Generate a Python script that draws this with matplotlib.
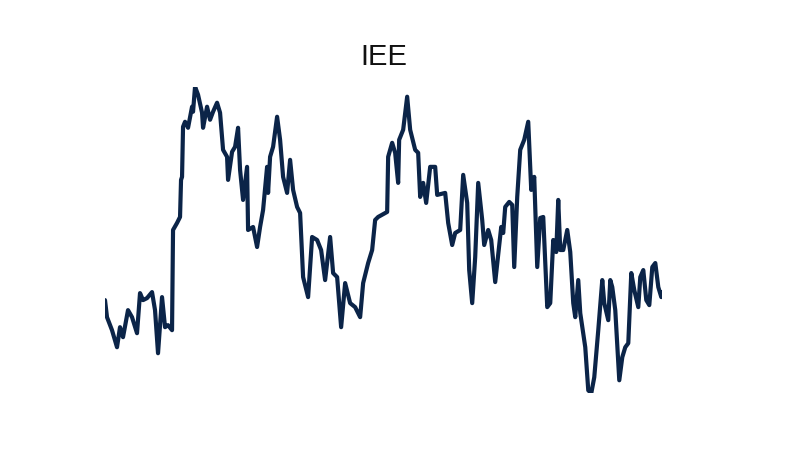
import matplotlib
matplotlib.use("Agg")
import matplotlib.pyplot as plt

# ------------------------------------------------------------------
# Data (read off the reference sparkline)
# ------------------------------------------------------------------

TICKER = "IEE"

days = [
    0, 2, 7, 12, 15, 18, 23, 27, 32, 35,
    38, 42, 47, 50, 53, 57, 60, 63, 67, 68,
    72, 75, 76, 77, 78, 80, 83, 87, 88, 90,
    93, 97, 98, 102, 105, 108, 112, 115, 118, 122,
    123, 127, 130, 133, 135, 138, 142, 143, 148, 152,
    155, 158, 162, 163, 165, 168, 172, 175, 178, 182,
    185, 188, 192, 195, 198, 203, 207, 212, 216, 220,
    225, 228, 232, 236, 240, 245, 250, 255, 258, 263,
    267, 270, 273, 282, 283, 287, 290, 293, 294, 298,
    302, 305, 310, 313, 315, 318, 321, 325, 330, 332,
    340, 343, 347, 350, 355, 358, 362, 364, 367, 370,
    373, 377, 379, 383, 386, 390, 396, 398, 400, 404,
    407, 409, 412, 415, 419, 423, 426, 429, 432, 435,
    438, 442, 445, 448, 451, 453, 455, 458, 462, 465,
    468, 470, 473, 475, 480, 483, 486, 489, 493, 497,
    499, 503, 505, 507, 510, 514, 517, 520, 523, 526,
    529, 533, 535, 538, 541, 544, 547, 550, 553, 556,
    557,
]

price = [
    80.0, 78.3, 77.0, 75.3, 77.3, 76.3, 79.0, 78.3, 76.7, 80.7,
    80.0, 80.2, 80.8, 79.0, 74.7, 80.3, 77.3, 77.5, 77.0, 87.0,
    87.7, 88.3, 92.0, 92.3, 97.3, 97.8, 97.2, 99.3, 98.8, 101.3,
    100.5, 98.7, 97.2, 99.3, 98.0, 98.8, 99.7, 98.7, 95.0, 94.3,
    92.0, 94.8, 95.3, 97.2, 93.0, 90.0, 93.3, 87.0, 87.3, 85.3,
    87.3, 89.0, 93.3, 90.7, 94.3, 95.3, 98.3, 96.0, 92.3, 90.7,
    94.0, 91.0, 89.3, 88.7, 82.3, 80.3, 86.3, 86.0, 85.0, 82.0,
    86.3, 82.7, 82.3, 77.3, 81.7, 79.7, 79.3, 78.3, 81.7, 83.7,
    85.0, 88.0, 88.3, 88.8, 94.3, 95.7, 94.7, 91.7, 96.0, 97.0,
    100.3, 97.0, 95.0, 94.7, 90.3, 91.7, 89.7, 93.3, 93.3, 90.5,
    90.7, 87.7, 85.5, 86.7, 87.0, 92.5, 89.7, 83.0, 79.7, 84.3,
    91.7, 88.0, 85.5, 87.0, 86.0, 81.8, 87.3, 86.7, 89.3, 89.8,
    89.5, 83.3, 90.3, 95.0, 96.0, 97.8, 91.0, 92.3, 83.3, 88.2,
    88.3, 79.3, 79.7, 86.0, 84.8, 90.0, 85.0, 85.0, 87.0, 84.8,
    79.7, 78.3, 82.0, 78.7, 75.3, 71.0, 70.7, 72.3, 77.0, 82.0,
    79.7, 78.0, 82.0, 81.3, 79.0, 72.0, 74.3, 75.3, 75.7, 82.7,
    81.0, 79.3, 82.3, 83.0, 80.0, 79.5, 83.3, 83.7, 81.3, 80.3,
    80.8,
]

LINE_COLOR = "#0b2448"

# ------------------------------------------------------------------
# Plot
# ------------------------------------------------------------------

plt.rcParams["font.family"] = ["Liberation Sans", "DejaVu Sans"]

fig = plt.figure(figsize=(8, 4.5), dpi=100)
ax = fig.add_axes([105 / 800, 1 - 393.3 / 450, (662.3 - 105) / 800, (393.3 - 86.7) / 450])

ax.plot(days, price, color=LINE_COLOR, linewidth=3.0,
        solid_joinstyle="round", solid_capstyle="round")
ax.set_xlim(min(days), max(days))
ax.set_ylim(min(price), max(price))
ax.axis("off")

fig.text(384 / 800, 1 - 57 / 450, TICKER, ha="center", va="center",
         fontsize=21, color="#111111")

fig.savefig("out.png", dpi=100, facecolor="white")
plt.close(fig)
